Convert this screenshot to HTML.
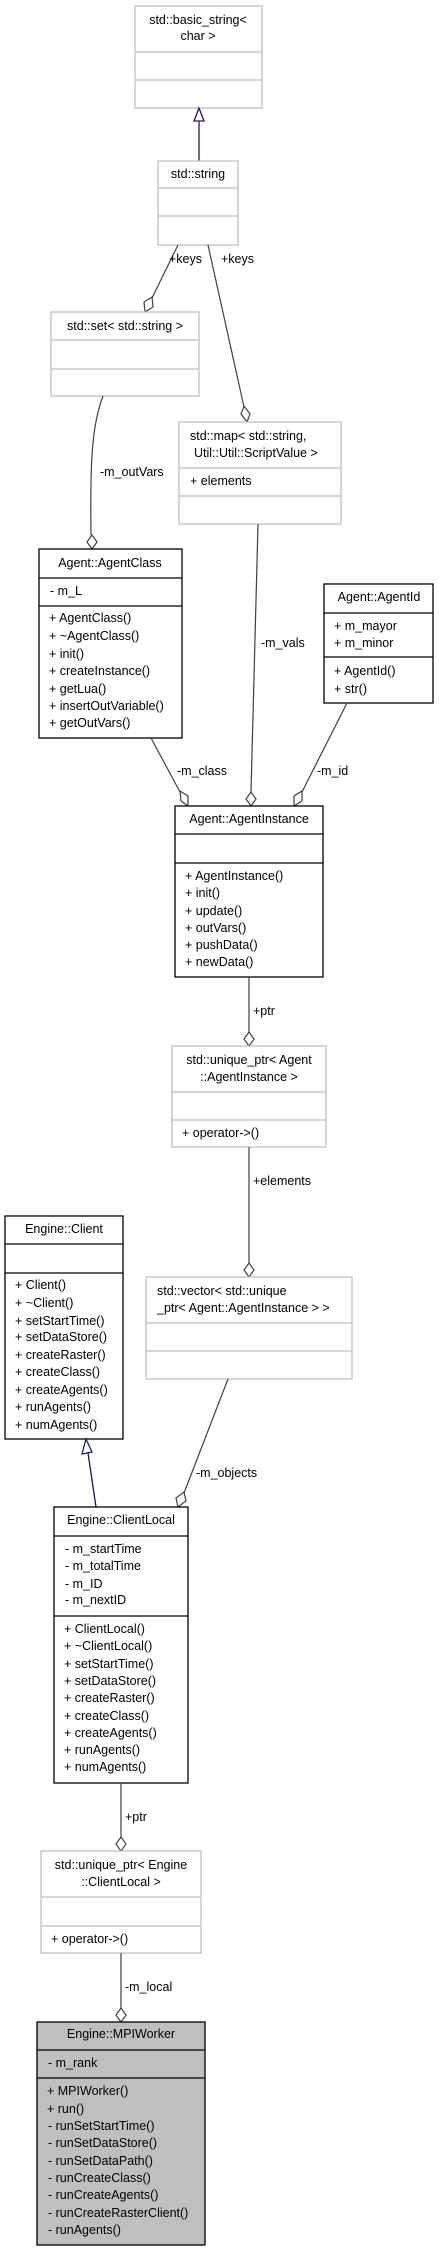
<!DOCTYPE html>
<html><head><meta charset="utf-8"><style>
html,body{margin:0;padding:0;background:#fff;}
svg{display:block;}
text{font-family:"Liberation Sans",Arial,sans-serif;font-size:12.5px;fill:#000;}
.g{fill:#fff;stroke:#bfbfbf;stroke-width:1.3;}
.b{fill:#fff;stroke:#000;stroke-width:1.3;}
.gl{stroke:#bfbfbf;stroke-width:1.3;}
.bl{stroke:#000;stroke-width:1.3;}
.e{fill:none;stroke:#404040;stroke-width:1.2;}
.d{fill:#fff;stroke:#404040;stroke-width:1.2;}
.m{text-anchor:middle;}
</style></head><body>
<svg width="439" height="2251" viewBox="0 0 439 2251" xmlns="http://www.w3.org/2000/svg">
<!-- basic_string -->
<rect class="g" x="135" y="6" width="127" height="102"/>
<line class="gl" x1="135" y1="52" x2="262" y2="52"/><line class="gl" x1="135" y1="80" x2="262" y2="80"/>
<text class="m" x="198" y="24">std::basic_string&lt;</text><text class="m" x="198" y="40">char &gt;</text>
<!-- inheritance -->
<line x1="199" y1="121" x2="199" y2="161" stroke="#191970" stroke-width="1.3"/>
<polygon points="199,108 194,121 204,121" fill="#fff" stroke="#191970" stroke-width="1.3"/>
<!-- std::string -->
<rect class="g" x="158" y="161" width="80" height="84"/>
<line class="gl" x1="158" y1="188" x2="238" y2="188"/><line class="gl" x1="158" y1="216" x2="238" y2="216"/>
<text class="m" x="198" y="178">std::string</text>
<!-- keys left -->
<line class="e" x1="178" y1="245" x2="152" y2="298"/>
<polygon class="d" points="145,312 144,302 152,297 153,307"/>
<text x="169" y="263">+keys</text>
<!-- keys right -->
<line class="e" x1="208" y1="245" x2="244" y2="407"/>
<polygon class="d" points="247,422 241,414 244,406 250,414"/>
<text x="221" y="263">+keys</text>
<!-- set -->
<rect class="g" x="51" y="312" width="148" height="84"/>
<line class="gl" x1="51" y1="340" x2="199" y2="340"/><line class="gl" x1="51" y1="369" x2="199" y2="369"/>
<text class="m" x="125" y="330">std::set&lt; std::string &gt;</text>
<!-- map -->
<rect class="g" x="179" y="422" width="162" height="102"/>
<line class="gl" x1="179" y1="468" x2="341" y2="468"/><line class="gl" x1="179" y1="496" x2="341" y2="496"/>
<text x="190" y="440">std::map&lt; std::string,</text><text x="194" y="457">Util::Util::ScriptValue &gt;</text>
<text x="190" y="485">+ elements</text>
<!-- outVars -->
<path class="e" d="M103,396 C92,425 90,460 91,535"/>
<polygon class="d" points="92,549 87,542 92,535 97,542"/>
<text x="100" y="476">-m_outVars</text>
<!-- AgentClass -->
<rect class="b" x="39" y="549" width="143" height="189"/>
<line class="bl" x1="39" y1="578" x2="182" y2="578"/><line class="bl" x1="39" y1="606" x2="182" y2="606"/>
<text class="m" x="110" y="567">Agent::AgentClass</text>
<text x="50" y="595">- m_L</text>
<text x="49" y="622">+ AgentClass()</text><text x="49" y="640">+ ~AgentClass()</text><text x="49" y="658">+ init()</text><text x="49" y="675">+ createInstance()</text><text x="49" y="693">+ getLua()</text><text x="49" y="710">+ insertOutVariable()</text><text x="49" y="727">+ getOutVars()</text>
<!-- AgentId -->
<rect class="b" x="324" y="584" width="109" height="119"/>
<line class="bl" x1="324" y1="613" x2="433" y2="613"/><line class="bl" x1="324" y1="657" x2="433" y2="657"/>
<text class="m" x="379" y="601">Agent::AgentId</text>
<text x="334" y="630">+ m_mayor</text><text x="334" y="647">+ m_minor</text>
<text x="334" y="675">+ AgentId()</text><text x="334" y="693">+ str()</text>
<!-- m_vals -->
<line class="e" x1="258" y1="524" x2="251" y2="792"/>
<polygon class="d" points="251,806 246,799 251,792 256,799"/>
<text x="261" y="647">-m_vals</text>
<!-- m_class -->
<line class="e" x1="151" y1="738" x2="180" y2="792"/>
<polygon class="d" points="188,806 181,801 180,791 188,796"/>
<text x="177" y="775">-m_class</text>
<!-- m_id -->
<line class="e" x1="347" y1="703" x2="302" y2="792"/>
<polygon class="d" points="294,806 294,796 302,791 302,801"/>
<text x="317" y="775">-m_id</text>
<!-- AgentInstance -->
<rect class="b" x="175" y="806" width="148" height="171"/>
<line class="bl" x1="175" y1="834" x2="323" y2="834"/><line class="bl" x1="175" y1="863" x2="323" y2="863"/>
<text class="m" x="249" y="823">Agent::AgentInstance</text>
<text x="185" y="880">+ AgentInstance()</text><text x="185" y="897">+ init()</text><text x="185" y="915">+ update()</text><text x="185" y="932">+ outVars()</text><text x="185" y="949">+ pushData()</text><text x="185" y="966">+ newData()</text>
<!-- ptr -->
<line class="e" x1="249" y1="977" x2="249" y2="1032"/>
<polygon class="d" points="249,1046 244,1039 249,1032 254,1039"/>
<text x="253" y="1015">+ptr</text>
<!-- unique_ptr Agent -->
<rect class="g" x="172" y="1046" width="154" height="101"/>
<line class="gl" x1="172" y1="1092" x2="326" y2="1092"/><line class="gl" x1="172" y1="1120" x2="326" y2="1120"/>
<text class="m" x="249" y="1064">std::unique_ptr&lt; Agent</text><text class="m" x="249" y="1081">::AgentInstance &gt;</text>
<text x="182" y="1137">+ operator-&gt;()</text>
<!-- elements -->
<line class="e" x1="249" y1="1147" x2="249" y2="1263"/>
<polygon class="d" points="249,1277 244,1270 249,1263 254,1270"/>
<text x="253" y="1185">+elements</text>
<!-- vector -->
<rect class="g" x="146" y="1277" width="206" height="102"/>
<line class="gl" x1="146" y1="1323" x2="352" y2="1323"/><line class="gl" x1="146" y1="1351" x2="352" y2="1351"/>
<text x="157" y="1295">std::vector&lt; std::unique</text><text x="157" y="1312">_ptr&lt; Agent::AgentInstance &gt; &gt;</text>
<!-- Client -->
<rect class="b" x="5" y="1216" width="118" height="223"/>
<line class="bl" x1="5" y1="1244" x2="123" y2="1244"/><line class="bl" x1="5" y1="1273" x2="123" y2="1273"/>
<text class="m" x="64" y="1233">Engine::Client</text>
<text x="15" y="1289">+ Client()</text><text x="15" y="1307">+ ~Client()</text><text x="15" y="1325">+ setStartTime()</text><text x="15" y="1341">+ setDataStore()</text><text x="15" y="1359">+ createRaster()</text><text x="15" y="1376">+ createClass()</text><text x="15" y="1394">+ createAgents()</text><text x="15" y="1411">+ runAgents()</text><text x="15" y="1429">+ numAgents()</text>
<!-- inheritance ClientLocal->Client -->
<line x1="96" y1="1507" x2="88" y2="1453" stroke="#191970" stroke-width="1.3"/>
<polygon points="86,1439 82,1454 92,1452" fill="#fff" stroke="#191970" stroke-width="1.3"/>
<!-- m_objects -->
<line class="e" x1="228" y1="1379" x2="184" y2="1493"/>
<polygon class="d" points="178,1507 176,1498 184,1492 186,1501"/>
<text x="196" y="1477">-m_objects</text>
<!-- ClientLocal -->
<rect class="b" x="54" y="1507" width="134" height="276"/>
<line class="bl" x1="54" y1="1536" x2="188" y2="1536"/><line class="bl" x1="54" y1="1616" x2="188" y2="1616"/>
<text class="m" x="121" y="1524">Engine::ClientLocal</text>
<text x="65" y="1553">- m_startTime</text><text x="65" y="1570">- m_totalTime</text><text x="65" y="1588">- m_ID</text><text x="65" y="1604">- m_nextID</text>
<text x="64" y="1633">+ ClientLocal()</text><text x="64" y="1650">+ ~ClientLocal()</text><text x="64" y="1668">+ setStartTime()</text><text x="64" y="1685">+ setDataStore()</text><text x="64" y="1702">+ createRaster()</text><text x="64" y="1720">+ createClass()</text><text x="64" y="1737">+ createAgents()</text><text x="64" y="1754">+ runAgents()</text><text x="64" y="1771">+ numAgents()</text>
<!-- ptr 2 -->
<line class="e" x1="121" y1="1783" x2="121" y2="1837"/>
<polygon class="d" points="121,1851 116,1844 121,1837 126,1844"/>
<text x="125" y="1821">+ptr</text>
<!-- unique_ptr Engine -->
<rect class="g" x="41" y="1851" width="160" height="102"/>
<line class="gl" x1="41" y1="1897" x2="201" y2="1897"/><line class="gl" x1="41" y1="1926" x2="201" y2="1926"/>
<text class="m" x="121" y="1869">std::unique_ptr&lt; Engine</text><text class="m" x="121" y="1886">::ClientLocal &gt;</text>
<text x="51" y="1943">+ operator-&gt;()</text>
<!-- m_local -->
<line class="e" x1="121" y1="1953" x2="121" y2="2008"/>
<polygon class="d" points="121,2022 116,2015 121,2008 126,2015"/>
<text x="125" y="1991">-m_local</text>
<!-- MPIWorker -->
<rect x="37" y="2022" width="168" height="223" fill="#bfbfbf" stroke="#000" stroke-width="1.3"/>
<line class="bl" x1="37" y1="2050" x2="205" y2="2050"/><line class="bl" x1="37" y1="2078" x2="205" y2="2078"/>
<text class="m" x="121" y="2038">Engine::MPIWorker</text>
<text x="48" y="2067">- m_rank</text>
<text x="47" y="2095">+ MPIWorker()</text><text x="47" y="2113">+ run()</text><text x="48" y="2130">- runSetStartTime()</text><text x="48" y="2147">- runSetDataStore()</text><text x="48" y="2165">- runSetDataPath()</text><text x="48" y="2182">- runCreateClass()</text><text x="48" y="2199">- runCreateAgents()</text><text x="48" y="2217">- runCreateRasterClient()</text><text x="48" y="2234">- runAgents()</text>
</svg>
</body></html>
